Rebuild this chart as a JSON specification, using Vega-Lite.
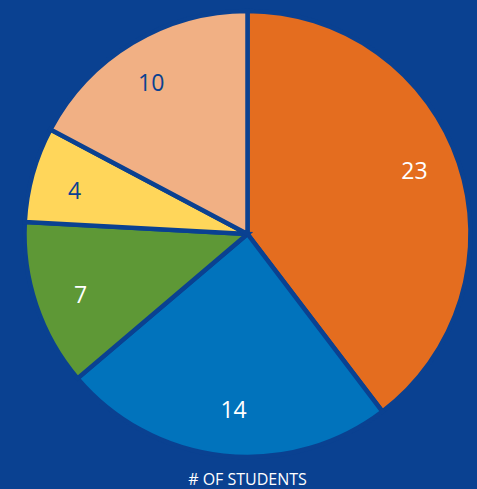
{
  "$schema": "https://vega.github.io/schema/vega-lite/v6.json",
  "width": 446,
  "height": 446,
  "autosize": {"type": "none"},
  "padding": {"left": 24.5, "top": 11, "right": 6.5, "bottom": 32},
  "background": "#0A4191",
  "title": {
    "text": "# OF STUDENTS",
    "orient": "bottom",
    "offset": 6,
    "font": "Open Sans",
    "fontSize": 16,
    "fontWeight": "normal",
    "color": "#FFFFFF",
    "anchor": "middle",
    "baseline": "top"
  },
  "view": {"stroke": null},
  "data": {
    "values": [
      {"cat": "A", "value": 23, "order": 1, "label": "light"},
      {"cat": "B", "value": 14, "order": 2, "label": "light"},
      {"cat": "C", "value": 7, "order": 3, "label": "light"},
      {"cat": "D", "value": 4, "order": 4, "label": "dark"},
      {"cat": "E", "value": 10, "order": 5, "label": "dark"}
    ]
  },
  "encoding": {
    "theta": {"field": "value", "type": "quantitative", "stack": true},
    "order": {"field": "order", "type": "quantitative"}
  },
  "layer": [
    {
      "mark": {"type": "arc", "outerRadius": 223, "stroke": "#0A4191", "strokeWidth": 4.5},
      "encoding": {
        "color": {
          "field": "cat",
          "type": "nominal",
          "scale": {"domain": ["A", "B", "C", "D", "E"], "range": ["#E46D1F", "#0173BC", "#5E9836", "#FFD65A", "#F1B084"]},
          "legend": null
        }
      }
    },
    {
      "mark": {"type": "text", "radius": 178, "thetaOffset": -0.03, "font": "Open Sans", "fontSize": 23},
      "encoding": {
        "text": {"field": "value", "type": "quantitative"},
        "color": {
          "field": "label",
          "type": "nominal",
          "scale": {"domain": ["light", "dark"], "range": ["#FFFFFF", "#0A4191"]},
          "legend": null
        }
      }
    }
  ],
  "resolve": {"scale": {"color": "independent"}}
}
